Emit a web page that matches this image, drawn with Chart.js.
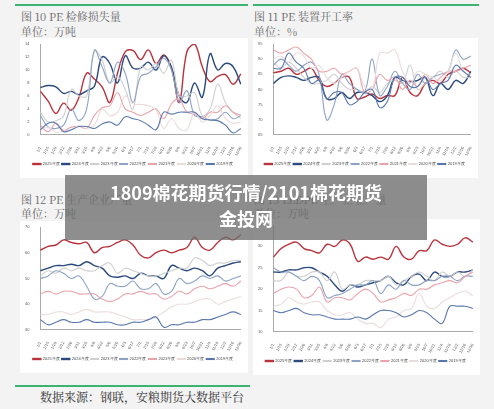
<!DOCTYPE html>
<html><head><meta charset="utf-8">
<script src="https://cdn.jsdelivr.net/npm/chart.js@4"></script>
<style>
body{margin:0;background:#f3f3f3;width:494px;height:409px;overflow:hidden;font-family:"Noto Serif CJK SC","Noto Sans CJK SC",serif;position:relative}
.gl{position:absolute;height:2px;background:#3cb371}
.t{position:absolute;font-size:11px;color:#666}
.box{position:absolute;background:#fff}
.ov{position:absolute;left:65px;top:175px;width:362px;height:61px;background:rgba(110,110,110,0.78);color:#fff;font:bold 18px "Noto Sans CJK SC",sans-serif;text-align:center;line-height:26px;padding-top:4px}
.src{position:absolute;left:40px;top:388px;font-size:12px;color:#333}
</style></head><body>
<div class="gl" style="left:15px;top:4px;width:233px"></div>
<div class="gl" style="left:253px;top:4px;width:226px"></div>
<div class="t" style="left:21px;top:8px">图 10 PE 检修损失量</div>
<div class="t" style="left:21px;top:23px">单位：万吨</div>
<div class="t" style="left:254px;top:8px">图 11 PE 装置开工率</div>
<div class="t" style="left:254px;top:23px">单位：%</div>
<div class="t" style="left:21px;top:191px">图 12 PE 生产企业产量</div>
<div class="t" style="left:21px;top:205px">单位：万吨</div>
<div class="t" style="left:254px;top:191px">图 13 LLDPE 生产企业产量</div>
<div class="t" style="left:254px;top:205px">单位：万吨</div>
<div class="box" style="left:20px;top:38px;width:228px;height:140px"><canvas id="c1"></canvas></div>
<div class="box" style="left:253px;top:38px;width:225px;height:140px"><canvas id="c2"></canvas></div>
<div class="box" style="left:20px;top:221px;width:228px;height:152px"><canvas id="c3"></canvas></div>
<div class="box" style="left:253px;top:219px;width:227px;height:156px"><canvas id="c4"></canvas></div>
<div class="gl" style="left:15px;top:385px;width:235px"></div>
<div class="src">数据来源：钢联，安粮期货大数据平台</div>
<div class="ov">1809棉花期货行情/2101棉花期货<br>金投网</div>
<script>
const years = ['2025年度','2024年度','2023年度','2022年度','2021年度','2020年度','2019年度'];
const colors = ['#b8333c','#2b4a7e','#cfcfcf','#8ea3c4','#e9a3ab','#ebdcdc','#5877ad'];
const weeks = ['1/1','1/15','1/29','2/12','2/26','3/11','3/25','4/8','4/22','5/6','5/20','6/3','6/17','7/1','7/15','7/29','8/12','8/26','9/9','9/23','10/7','10/21','11/4','11/18','12/2','12/16','12/30'];

const lossData = [
 [6.7,5.2,3.3,4.9,3.8,5.8,9.5,8.6,7.4,5.0,9.5,12.8,13.0,11.6,13.1,11.0,12.3,10.3,5.0,12.8,14.0,10.5,8.2,9.0,9.3,7.8,9.4],
 [7.3,7.6,7.4,6.4,6.7,6.2,6.8,7.5,12.0,11.0,8.0,12.2,10.3,10.3,11.2,10.0,12.2,10.4,6.0,5.0,8.0,5.8,12.5,10.0,11.0,10.5,7.8],
 [3.5,2.0,2.2,2.9,7.0,6.0,6.0,13.0,11.5,8.0,9.0,7.0,4.0,10.5,10.0,11.0,9.5,11.5,6.0,6.0,6.5,3.0,4.0,7.8,5.0,3.5,2.5],
 [3.0,1.2,1.0,1.5,4.0,2.2,4.0,13.0,10.5,8.0,11.2,9.5,5.0,9.0,9.5,10.5,11.8,10.0,5.0,6.8,3.0,2.8,2.3,2.5,3.5,2.5,3.0],
 [1.5,0.5,1.8,0.7,1.2,1.3,1.0,3.0,4.2,4.5,6.5,4.0,3.5,3.0,3.5,4.0,2.5,4.8,5.5,3.5,3.2,2.5,3.5,3.5,4.5,3.5,3.0],
 [1.0,1.2,0.4,0.6,0.8,1.4,1.0,1.5,4.0,3.0,3.5,6.0,4.8,4.7,4.5,3.8,1.0,2.5,1.0,0.8,3.5,2.0,3.0,4.5,2.5,1.8,2.0],
 [0.8,1.8,1.8,0.5,0.8,1.3,1.3,1.0,1.7,2.0,1.5,2.8,2.5,2.2,1.5,0.8,3.5,3.2,3.5,3.5,3.5,2.5,2.3,2.2,1.5,0.3,1.0]
];
const rateData = [
 [85.5,86,87,85,86,87,83,81,82,84,84,77,77.5,78.5,77,78,78,84,79,78,82,83,82,85,86,87,85.5],
 [82,84,84.5,84,83,84,84,77,77,79,77,79,79,78,76,78,84,83,82.5,83,84,78,82,80,83,82,86],
 [89,87,89,87,84,82,82,83,85,82,80,80,79,81,79,82,83,82,88,80,82,84,86,84,86,84,84],
 [88,90,88,86,88,89,85,70,75,85,82,80,79,90,78,81,86,82,80,85,82,84,85,86,93,90,91],
 [93,92,93,94,92,90,86,86,87,85,86,87,79,80,85,83,84,80,83,81,85,82,84,86,86,87,88],
 [90,91,89,92,91,87,88,84,82,84,86,87,81,80,92,92,93,86,82,86,85,84,83,86,92,86,85],
 [87,87,92,89,87,82,83,77,79,79,75,76,79,80,74,76,84,84,81,81,84,80,82,83,88,86,84]
];
const peOutput = [
 [61,62.5,63,65,64,63.5,64,60,62,62.5,64,65,63,59,58,60,61,60,61,62,66,62,61,64,66,65,67],
 [53,54,55,55,55.5,55,56.5,55,54,51,50.5,51,50,52,51,51,50,55,54,53,54,53,51,54,55,56,56.5],
 [51,53,52,54,53,54,53,53,55,56,52,54,53,52,51,51,52,53,54,54,58,57,55,56,56,57,57],
 [50,51,53,52,50,51,47,42,43,48,47,47,49,46,46,48,44,45,50,48,49,51,50,51,49,50,51],
 [44,45,44,45,45,44,44,44,42,41,42,44,44,45,44,44,42,43,45,44,46,47,46,47,48,47,49],
 [36,36,37,37,36,37,38,37,37,37,36,35,34,34,34,35,37,39,40,40,41,42,42,40,41,42,43],
 [34,32,33,34,33,33,34,33,33,33,32,32,33,33,34,35,31,32,32,33,33,34,34,35,36,37,36]
];
const lldpeOutput = [
 [27.5,29.5,30.5,31,29.5,29,28.5,30.5,30,31.5,30.5,26.5,27.5,27,27.5,27,30,27.5,27,29,29,31.5,30.5,30,30.5,32,31],
 [24,24,24.5,24.5,25,25,24,23,21,19.5,21,20.5,21,21.5,22,23,21.5,21,23,23.5,22,24,23,23,24,24,24.5],
 [22,22,24,23,23,24,24,22,24,20,21,21,22,22,22,23,21,22,23,24,23,22,24,23,24,23,24.5],
 [25,24,24,23,22,23,22,18,18.5,19,20,21,21,22,19,21,20,22,21,21,22,22,23,23,22,23,23],
 [19,20,20.5,20,18,18.5,20.5,17,18,18,17.5,19,20,19,17,17.5,18,19,18.5,20,20,21,21.5,22,21.5,23,24],
 [16,16.5,18,17,16.5,17,17,15,14,14,14.5,13,12,12,11,13,13.5,15,15.5,19,16,15.5,17,18,19,19.5,18.5],
 [15,14.5,15,15.5,14.5,14,14,13.5,13,13,13,13.5,13,14,15,15,14.5,13.5,14,15,14.5,13,12,16,16,16,15.5]
];

function makeChart(id, series, min, max, step) {
    new Chart(document.getElementById(id), {
        type: 'line',
        data: {
            labels: weeks,
            // older years drawn first so 2025 sits on top
            datasets: years.map((y, i) => ({
                label: y, data: series[i], borderColor: colors[i], backgroundColor: colors[i],
                borderWidth: i < 2 ? 1.4 : 1.1, pointRadius: 0, tension: 0.4, order: 6 - i
            }))
        },
        options: {
            responsive: true, maintainAspectRatio: false, animation: false,
            layout: { padding: { left: 2, right: 4, top: 6, bottom: 2 } },
            plugins: {
                legend: {
                    position: 'bottom',
                    labels: {
                        font: { size: 4 }, color: '#444', boxWidth: 8, boxHeight: 1, padding: 2,
                        sort: (a, b) => a.datasetIndex - b.datasetIndex
                    }
                },
                tooltip: { enabled: false }
            },
            scales: {
                x: {
                    grid: { display: false }, border: { color: '#aaa' },
                    ticks: { font: { size: 4 }, color: '#555', maxRotation: 60, minRotation: 60, autoSkip: false }
                },
                y: {
                    min: min, max: max, grid: { display: false }, border: { color: '#aaa' },
                    ticks: { stepSize: step, font: { size: 4 }, color: '#555' }
                }
            }
        }
    });
}

makeChart('c1', lossData, 0, 14, 2);
makeChart('c2', rateData, 65, 95, 5);
makeChart('c3', peOutput, 30, 70, 10);
makeChart('c4', lldpeOutput, 10, 35, 5);
</script>
</body></html>
